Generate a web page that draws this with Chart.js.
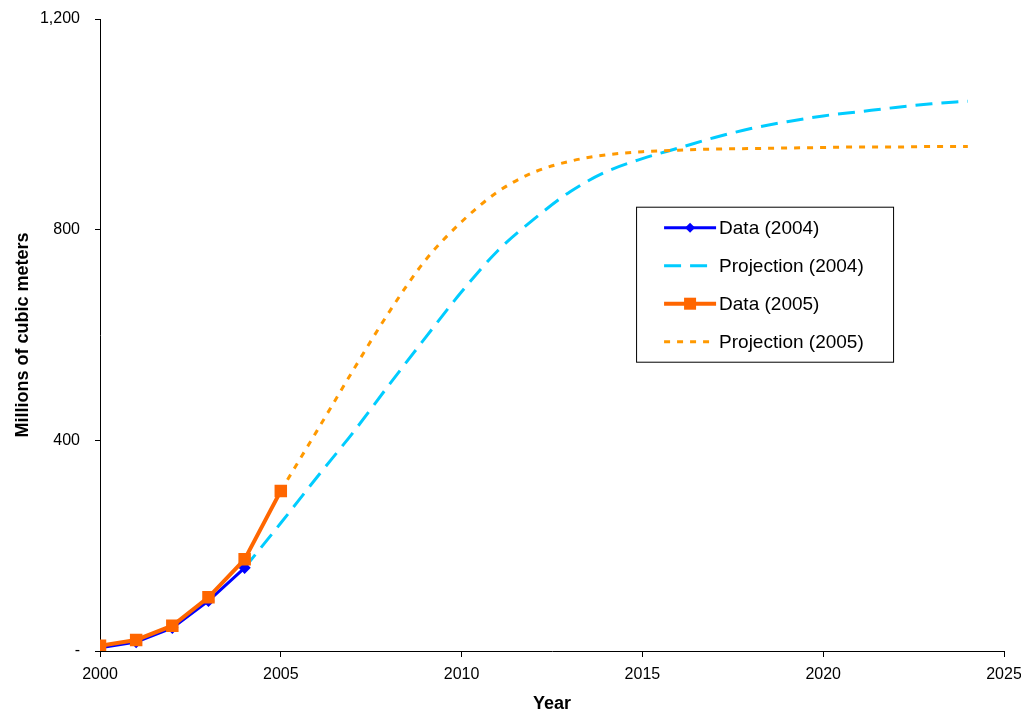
<!DOCTYPE html>
<html>
<head>
<meta charset="utf-8">
<script src="https://cdn.jsdelivr.net/npm/chart.js@4"></script>
<style>
  html, body { margin: 0; padding: 0; background: #fff; }
  #wrap { width: 1021px; height: 715px; }
</style>
</head>
<body>
<div id="wrap"><canvas id="chart" width="1021" height="715"></canvas></div>
<script>
const dataYears2004 = [2000, 2001, 2002, 2003, 2004];
const dataValues2004 = [6, 17, 44, 95, 158];

const projYears2004 = [2004, 2005, 2006, 2007, 2008, 2009, 2010, 2011, 2012, 2013, 2014,
  2015, 2016, 2017, 2018, 2019, 2020, 2021, 2022, 2023, 2024];
const projValues2004 = [158, 243, 330, 415, 506, 595, 682, 760, 820, 872, 910,
  935, 955, 975, 992, 1005, 1016, 1024, 1032, 1039, 1044];

const dataYears2005 = [2000, 2001, 2002, 2003, 2004, 2005];
const dataValues2005 = [10, 21, 48, 102, 174, 304];

const projYears2005 = [2005, 2006, 2007, 2008, 2009, 2010, 2011, 2012, 2013, 2014,
  2015, 2016, 2017, 2018, 2019, 2020, 2021, 2022, 2023, 2024];
const projValues2005 = [304, 418, 533, 644, 742, 815, 872, 909, 930, 942,
  948, 951, 953, 954, 955, 956, 957, 957, 958, 958];

const yTicks = [0, 400, 800, 1200];
const yTickLabels = ["-", "400", "800", "1,200"];
const xTicks = [2000, 2005, 2010, 2015, 2020, 2025];

function toPoints(xs, ys) {
  return xs.map((x, i) => ({ x: x, y: ys[i] }));
}

const seriesInfo = [
  { label: "Data (2004)", color: "#0000FF", width: 3, dash: [], marker: "rectRot", size: 4 },
  { label: "Projection (2004)", color: "#00CCFF", width: 3, dash: [17, 9], marker: false },
  { label: "Data (2005)", color: "#FF6600", width: 4, dash: [], marker: "rect", size: 6 },
  { label: "Projection (2005)", color: "#FF9900", width: 3, dash: [6, 7], marker: false },
];

const fontFamily = "'Liberation Sans', Arial, sans-serif";

// legend drawn inside the plot, like the original
const boxLegend = {
  id: "boxLegend",
  afterDraw(chart) {
    const ctx = chart.ctx;
    const area = chart.chartArea;
    const w = area.right - area.left;
    const h = area.bottom - area.top;
    const bx = area.left + w * 0.593;
    const by = area.top + h * 0.297;
    const bw = 257, bh = 155;
    ctx.save();
    ctx.fillStyle = "#fff";
    ctx.fillRect(bx, by, bw, bh);
    ctx.strokeStyle = "#000";
    ctx.lineWidth = 1;
    ctx.strokeRect(bx + 0.5, by + 0.5, bw, bh);
    ctx.font = "19px " + fontFamily;
    ctx.textBaseline = "middle";
    seriesInfo.forEach((s, i) => {
      const y = by + 21 + i * 38;
      ctx.strokeStyle = s.color;
      ctx.lineWidth = s.width;
      ctx.setLineDash(s.dash);
      ctx.beginPath();
      ctx.moveTo(bx + 28, y);
      ctx.lineTo(bx + 80, y);
      ctx.stroke();
      ctx.setLineDash([]);
      ctx.fillStyle = s.color;
      if (s.marker === "rect") {
        ctx.fillRect(bx + 54 - 6, y - 6, 12, 12);
      } else if (s.marker === "rectRot") {
        ctx.beginPath();
        ctx.moveTo(bx + 54, y - 5);
        ctx.lineTo(bx + 59, y);
        ctx.lineTo(bx + 54, y + 5);
        ctx.lineTo(bx + 49, y);
        ctx.closePath();
        ctx.fill();
      }
      ctx.fillStyle = "#000";
      ctx.fillText(s.label, bx + 83, y + 1);
    });
    ctx.restore();
  }
};

// first dataset is drawn on top
const datasets = [
  { xs: dataYears2005, ys: dataValues2005, info: seriesInfo[2] },
  { xs: dataYears2004, ys: dataValues2004, info: seriesInfo[0] },
  { xs: projYears2005, ys: projValues2005, info: seriesInfo[3] },
  { xs: projYears2004, ys: projValues2004, info: seriesInfo[1] },
].map((d) => ({
  label: d.info.label,
  data: toPoints(d.xs, d.ys),
  borderColor: d.info.color,
  backgroundColor: d.info.color,
  borderWidth: d.info.width,
  borderDash: d.info.dash,
  borderCapStyle: "butt",
  pointStyle: d.info.marker || "circle",
  pointRadius: d.info.marker ? d.info.size : 0,
  pointHoverRadius: 0,
  tension: d.info.marker ? 0 : 0.4,
  cubicInterpolationMode: d.info.marker ? "default" : "monotone",
  fill: false,
}));

const tickFont = { family: fontFamily, size: 16 };
const titleFont = { family: fontFamily, size: 18, weight: "bold" };

new Chart(document.getElementById("chart").getContext("2d"), {
  type: "line",
  data: { datasets: datasets },
  options: {
    responsive: false,
    animation: false,
    events: [],
    layout: { padding: { top: 19, right: 17, left: 0, bottom: 0 } },
    plugins: { legend: { display: false }, tooltip: { enabled: false } },
    scales: {
      x: {
        type: "linear",
        min: 2000,
        max: 2025,
        afterBuildTicks: (s) => { s.ticks = xTicks.map((v) => ({ value: v })); },
        afterFit: (s) => { s.height = 64; s.paddingLeft = 0; s.paddingRight = 0; },
        ticks: { color: "#000", font: tickFont, padding: 8, maxRotation: 0, callback: (v) => String(v) },
        grid: { drawOnChartArea: false, color: "#000", tickLength: 6, tickColor: "#000" },
        border: { color: "#000", width: 1 },
        title: { display: true, text: "Year", color: "#000", font: titleFont, padding: { top: 0, bottom: 0 } },
      },
      y: {
        min: 0,
        max: 1200,
        afterBuildTicks: (s) => { s.ticks = yTicks.map((v) => ({ value: v })); },
        afterFit: (s) => { s.width = 100; s.paddingTop = 0; s.paddingBottom = 0; },
        ticks: {
          color: "#000", font: tickFont, padding: 15,
          callback: (v) => yTickLabels[yTicks.indexOf(v)],
        },
        grid: { drawOnChartArea: false, color: "#000", tickLength: 5, tickColor: "#000" },
        border: { color: "#000", width: 1 },
        title: { display: true, text: "Millions of cubic meters", color: "#000", font: titleFont, padding: { top: 12, bottom: 0 } },
      },
    },
  },
  plugins: [boxLegend],
});
</script>
</body>
</html>
